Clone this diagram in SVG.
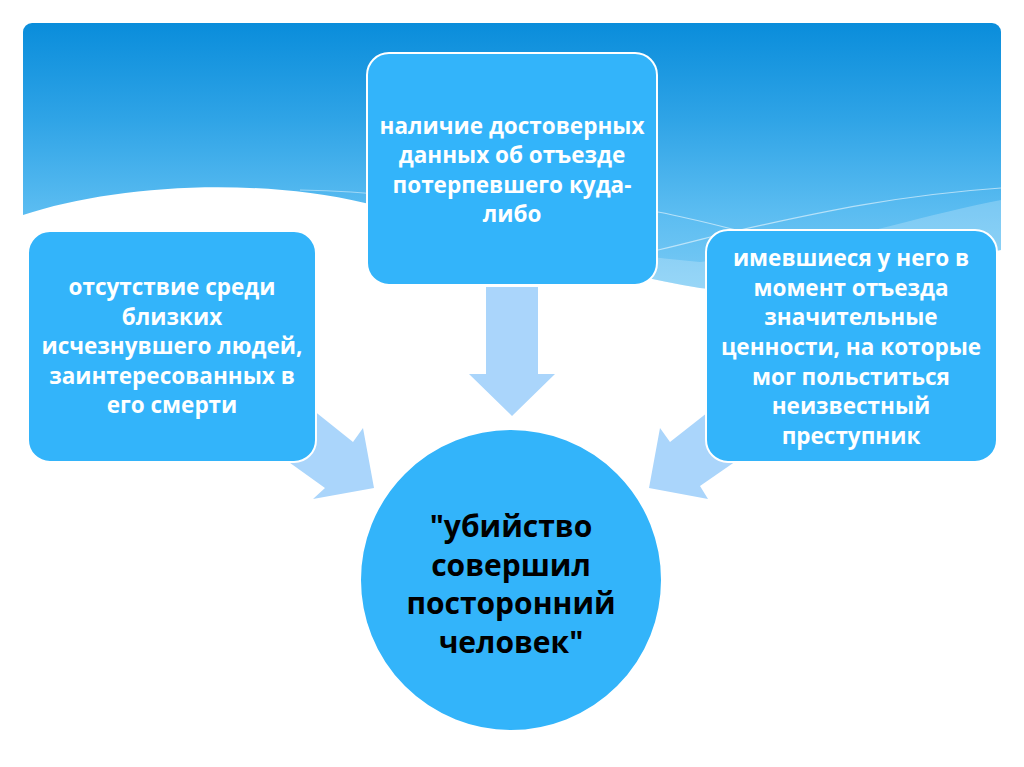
<svg xmlns="http://www.w3.org/2000/svg" width="1024" height="767" viewBox="0 0 1024 767">
  <defs>
    <linearGradient id="sky" x1="0" y1="0" x2="0" y2="1" gradientUnits="objectBoundingBox">
      <stop offset="0" stop-color="#0a8ddb"/>
      <stop offset="0.35" stop-color="#2ea3e6"/>
      <stop offset="0.7" stop-color="#5abcf1"/>
      <stop offset="1" stop-color="#7ccbf5"/>
    </linearGradient>
    <clipPath id="bannerClip">
      <rect x="23" y="23" width="978" height="290" rx="9"/>
    </clipPath>
    <style>
      .box { fill: #33b4fa; stroke: #ffffff; stroke-width: 2; }
      .arrow { fill: #aad5fb; }
      .t { font-family: "Open Sans", "Liberation Sans", sans-serif; font-weight: bold; fill: #ffffff; font-size: 22.5px; text-anchor: middle; }
      .c { font-family: "Open Sans", "Liberation Sans", sans-serif; font-weight: bold; fill: #000000; font-size: 30px; text-anchor: middle; }
    </style>
  </defs>
  <rect x="0" y="0" width="1024" height="767" fill="#ffffff"/>

  <g id="banner" clip-path="url(#bannerClip)">
    <path d="M23,23 H1001 V250 C900,272 800,300 700,288 C600,272 480,232 365,203 C250,176 110,186 23,215 Z" fill="url(#sky)"/>
    <path d="M300,200 C450,215 560,250 700,262 C820,250 920,215 1001,200 L1001,252 C900,272 800,300 700,288 C600,272 480,232 365,203 Z" fill="#ffffff" fill-opacity="0.22"/>
    <path d="M300,190 C380,192 420,198 460,205" fill="none" stroke="#ffffff" stroke-opacity="0.45" stroke-width="1.2"/>
    <path d="M658,212 C690,218 720,226 740,231" fill="none" stroke="#ffffff" stroke-opacity="0.55" stroke-width="1.2"/>
    <path d="M658,250 C700,240 720,234 740,230 C820,212 900,195 1001,188" fill="none" stroke="#ffffff" stroke-opacity="0.55" stroke-width="1.2"/>
  </g>

  <g id="connectors">
    <polygon class="arrow" points="486,287 538,287 538,374 555,374 512,416 469,374 486,374"/>
    <polygon class="arrow" points="298,398 353,442 363,428 374,488 313,499 325,488 272,450"/>
    <polygon class="arrow" points="726,398 670,442 660,428 649,488 708,499 700,486 752,450"/>
  </g>

  <g id="node-top">
    <rect class="box" x="367" y="53" width="290" height="232" rx="22"/>
    <text class="t" x="512" y="134">наличие достоверных</text>
    <text class="t" x="512" y="163">данных об отъезде</text>
    <text class="t" x="512" y="193">потерпевшего куда-</text>
    <text class="t" x="512" y="222">либо</text>
  </g>

  <g id="node-left">
    <rect class="box" x="28" y="231" width="288" height="231" rx="22"/>
    <text class="t" x="172" y="295">отсутствие среди</text>
    <text class="t" x="172" y="325">близких</text>
    <text class="t" x="172" y="354">исчезнувшего людей,</text>
    <text class="t" x="172" y="384">заинтересованных в</text>
    <text class="t" x="172" y="413">его смерти</text>
  </g>

  <g id="node-right">
    <rect class="box" x="706" y="230" width="291" height="232" rx="22"/>
    <text class="t" x="851" y="266">имевшиеся у него в</text>
    <text class="t" x="851" y="296">момент отъезда</text>
    <text class="t" x="851" y="325">значительные</text>
    <text class="t" x="851" y="355">ценности, на которые</text>
    <text class="t" x="851" y="385">мог польститься</text>
    <text class="t" x="851" y="414">неизвестный</text>
    <text class="t" x="851" y="444">преступник</text>
  </g>

  <g id="node-center">
    <circle class="box" cx="511" cy="580" r="151"/>
    <text class="c" x="511" y="537">"убийство</text>
    <text class="c" x="511" y="576">совершил</text>
    <text class="c" x="511" y="614">посторонний</text>
    <text class="c" x="511" y="653">человек"</text>
  </g>
</svg>
